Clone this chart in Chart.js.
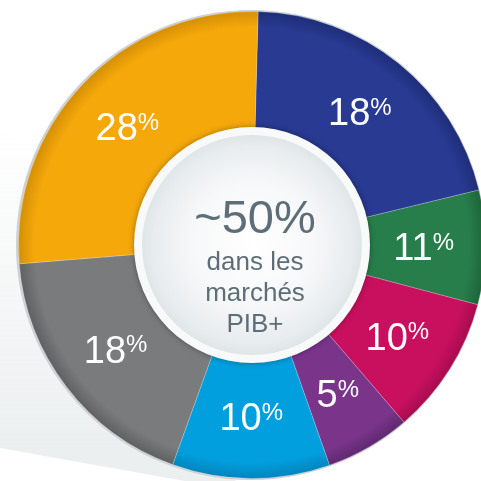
<!DOCTYPE html>
<html>
<head>
<meta charset="utf-8">
<script src="https://cdn.jsdelivr.net/npm/chart.js@4"></script>
<style>
  html, body { margin: 0; padding: 0; background: #ffffff; overflow: hidden; }
  #wrap { position: absolute; left: 0; top: 0; width: 481px; height: 481px; overflow: hidden; }
  #donut { position: absolute; left: 0; top: 0; }
</style>
</head>
<body>
<div id="wrap"><canvas id="donut" width="504" height="490"></canvas></div>
<script>
// Percent labels printed on each slice (clockwise from 12 o'clock)
const pctValues = [18, 11, 10, 5, 10, 18, 28];
// Share of the circle each slice actually takes in the picture
const arcShares = [20.8, 7.9, 9.6, 5.9, 10.9, 18.2, 26.7];
// Text in the middle
const centerLines = ['~50%', 'dans les', 'marchés', 'PIB+'];

const segmentColors = ['#283a92', '#277e4a', '#c9105f', '#7a358b', '#029fdf', '#7a7b7d', '#f5a80a'];
const edgeColors    = ['#1f2d78', '#1c6439', '#a50c4e', '#5f2870', '#0284bb', '#5f6062', '#d48f06'];

const FONT = '"Liberation Sans", Arial, sans-serif';

// Radial shading: darker rim on the outside of each slice
function shadedColor(context) {
    const i = context.dataIndex;
    const chart = context.chart;
    const area = chart.chartArea;
    if (!area || i === undefined) return segmentColors[i] || '#888';
    const cx = (area.left + area.right) / 2;
    const cy = (area.top + area.bottom) / 2;
    const r = Math.min(area.right - area.left, area.bottom - area.top) / 2;
    const g = chart.ctx.createRadialGradient(cx, cy, r * 0.45, cx, cy, r);
    g.addColorStop(0, edgeColors[i]);
    g.addColorStop(0.12, segmentColors[i]);
    g.addColorStop(0.87, segmentColors[i]);
    g.addColorStop(1, edgeColors[i]);
    return g;
}

// Light grey cast shadow behind the ring + grey outer rim
const backdropPlugin = {
    id: 'backdrop',
    beforeDatasetsDraw(chart) {
        const ctx = chart.ctx;
        const arc = chart.getDatasetMeta(0).data[0];
        const {x, y, outerRadius} = arc.getProps(['x', 'y', 'outerRadius'], true);
        ctx.save();
        const g = ctx.createLinearGradient(0, 130, 0, 450);
        g.addColorStop(0, 'rgba(236,239,240,0)');
        g.addColorStop(1, 'rgba(236,239,240,1)');
        ctx.fillStyle = g;
        ctx.beginPath();
        ctx.moveTo(0, 130);
        ctx.lineTo(x, y);
        ctx.lineTo(235, 490);
        ctx.lineTo(0, 448);
        ctx.closePath();
        ctx.fill();

        ctx.fillStyle = '#cdd1d3';
        ctx.beginPath();
        ctx.arc(x - 1, y, outerRadius + 1.5, 0, Math.PI * 2);
        ctx.fill();
        ctx.restore();
    }
};

// Centre disc, centre text and slice labels
const labelPlugin = {
    id: 'labels',
    afterDatasetsDraw(chart) {
        const ctx = chart.ctx;
        const meta = chart.getDatasetMeta(0);
        const first = meta.data[0].getProps(['x', 'y', 'outerRadius'], true);
        const cx = first.x, cy = first.y;

        // white ring with soft shadow
        ctx.save();
        ctx.shadowColor = 'rgba(0,0,0,0.30)';
        ctx.shadowBlur = 6;
        ctx.fillStyle = '#f8fafa';
        ctx.beginPath();
        ctx.arc(cx, cy, 118, 0, Math.PI * 2);
        ctx.fill();
        ctx.restore();

        // inner disc
        ctx.save();
        const g = ctx.createRadialGradient(cx + 2, cy - 4, 0, cx, cy, 110);
        g.addColorStop(0, '#ffffff');
        g.addColorStop(0.55, '#f7f8f9');
        g.addColorStop(0.9, '#e8ecee');
        g.addColorStop(1, '#dfe5e8');
        ctx.fillStyle = g;
        ctx.beginPath();
        ctx.arc(cx, cy, 110, 0, Math.PI * 2);
        ctx.fill();

        // centre text
        ctx.fillStyle = '#5e6e78';
        ctx.textAlign = 'center';
        ctx.textBaseline = 'alphabetic';
        ctx.font = '47px ' + FONT;
        ctx.fillText(centerLines[0], cx + 3, cy - 12);
        ctx.font = '26px ' + FONT;
        ctx.fillText(centerLines[1], cx + 3, cy + 25);
        ctx.fillText(centerLines[2], cx + 3, cy + 56);
        ctx.fillText(centerLines[3], cx + 3, cy + 87);
        ctx.restore();

        // slice labels: big number + small raised %
        ctx.save();
        ctx.fillStyle = '#ffffff';
        ctx.textAlign = 'left';
        ctx.textBaseline = 'alphabetic';
        meta.data.forEach((arc, i) => {
            const p = arc.getProps(['startAngle', 'endAngle', 'outerRadius'], true);
            const mid = (p.startAngle + p.endAngle) / 2;
            const rr = p.outerRadius * 0.735;
            const lx = cx + Math.cos(mid) * rr;
            const ly = cy + Math.sin(mid) * rr;
            const num = String(pctValues[i]);
            ctx.font = '38px ' + FONT;
            const wNum = ctx.measureText(num).width;
            ctx.font = '24px ' + FONT;
            const wPct = ctx.measureText('%').width;
            const x0 = lx - (wNum + wPct) / 2;
            ctx.font = '38px ' + FONT;
            ctx.fillText(num, x0, ly + 13.5);
            ctx.font = '24px ' + FONT;
            ctx.fillText('%', x0 + wNum, ly + 3);
        });
        ctx.restore();
    }
};

const donutChart = new Chart(document.getElementById('donut').getContext('2d'), {
    type: 'doughnut',
    data: {
        labels: pctValues.map(v => v + '%'),
        datasets: [{
            data: arcShares,
            backgroundColor: shadedColor,
            borderColor: 'rgba(255,255,255,0.22)',
            borderWidth: 1,
            hoverOffset: 0
        }]
    },
    options: {
        responsive: false,
        animation: false,
        cutout: '47%',
        rotation: 1.5,
        layout: {
            padding: { left: 18, right: 18, top: 11, bottom: 11 }
        },
        plugins: {
            legend: { display: false },
            tooltip: { enabled: false }
        }
    },
    plugins: [backdropPlugin, labelPlugin]
});
</script>
</body>
</html>
